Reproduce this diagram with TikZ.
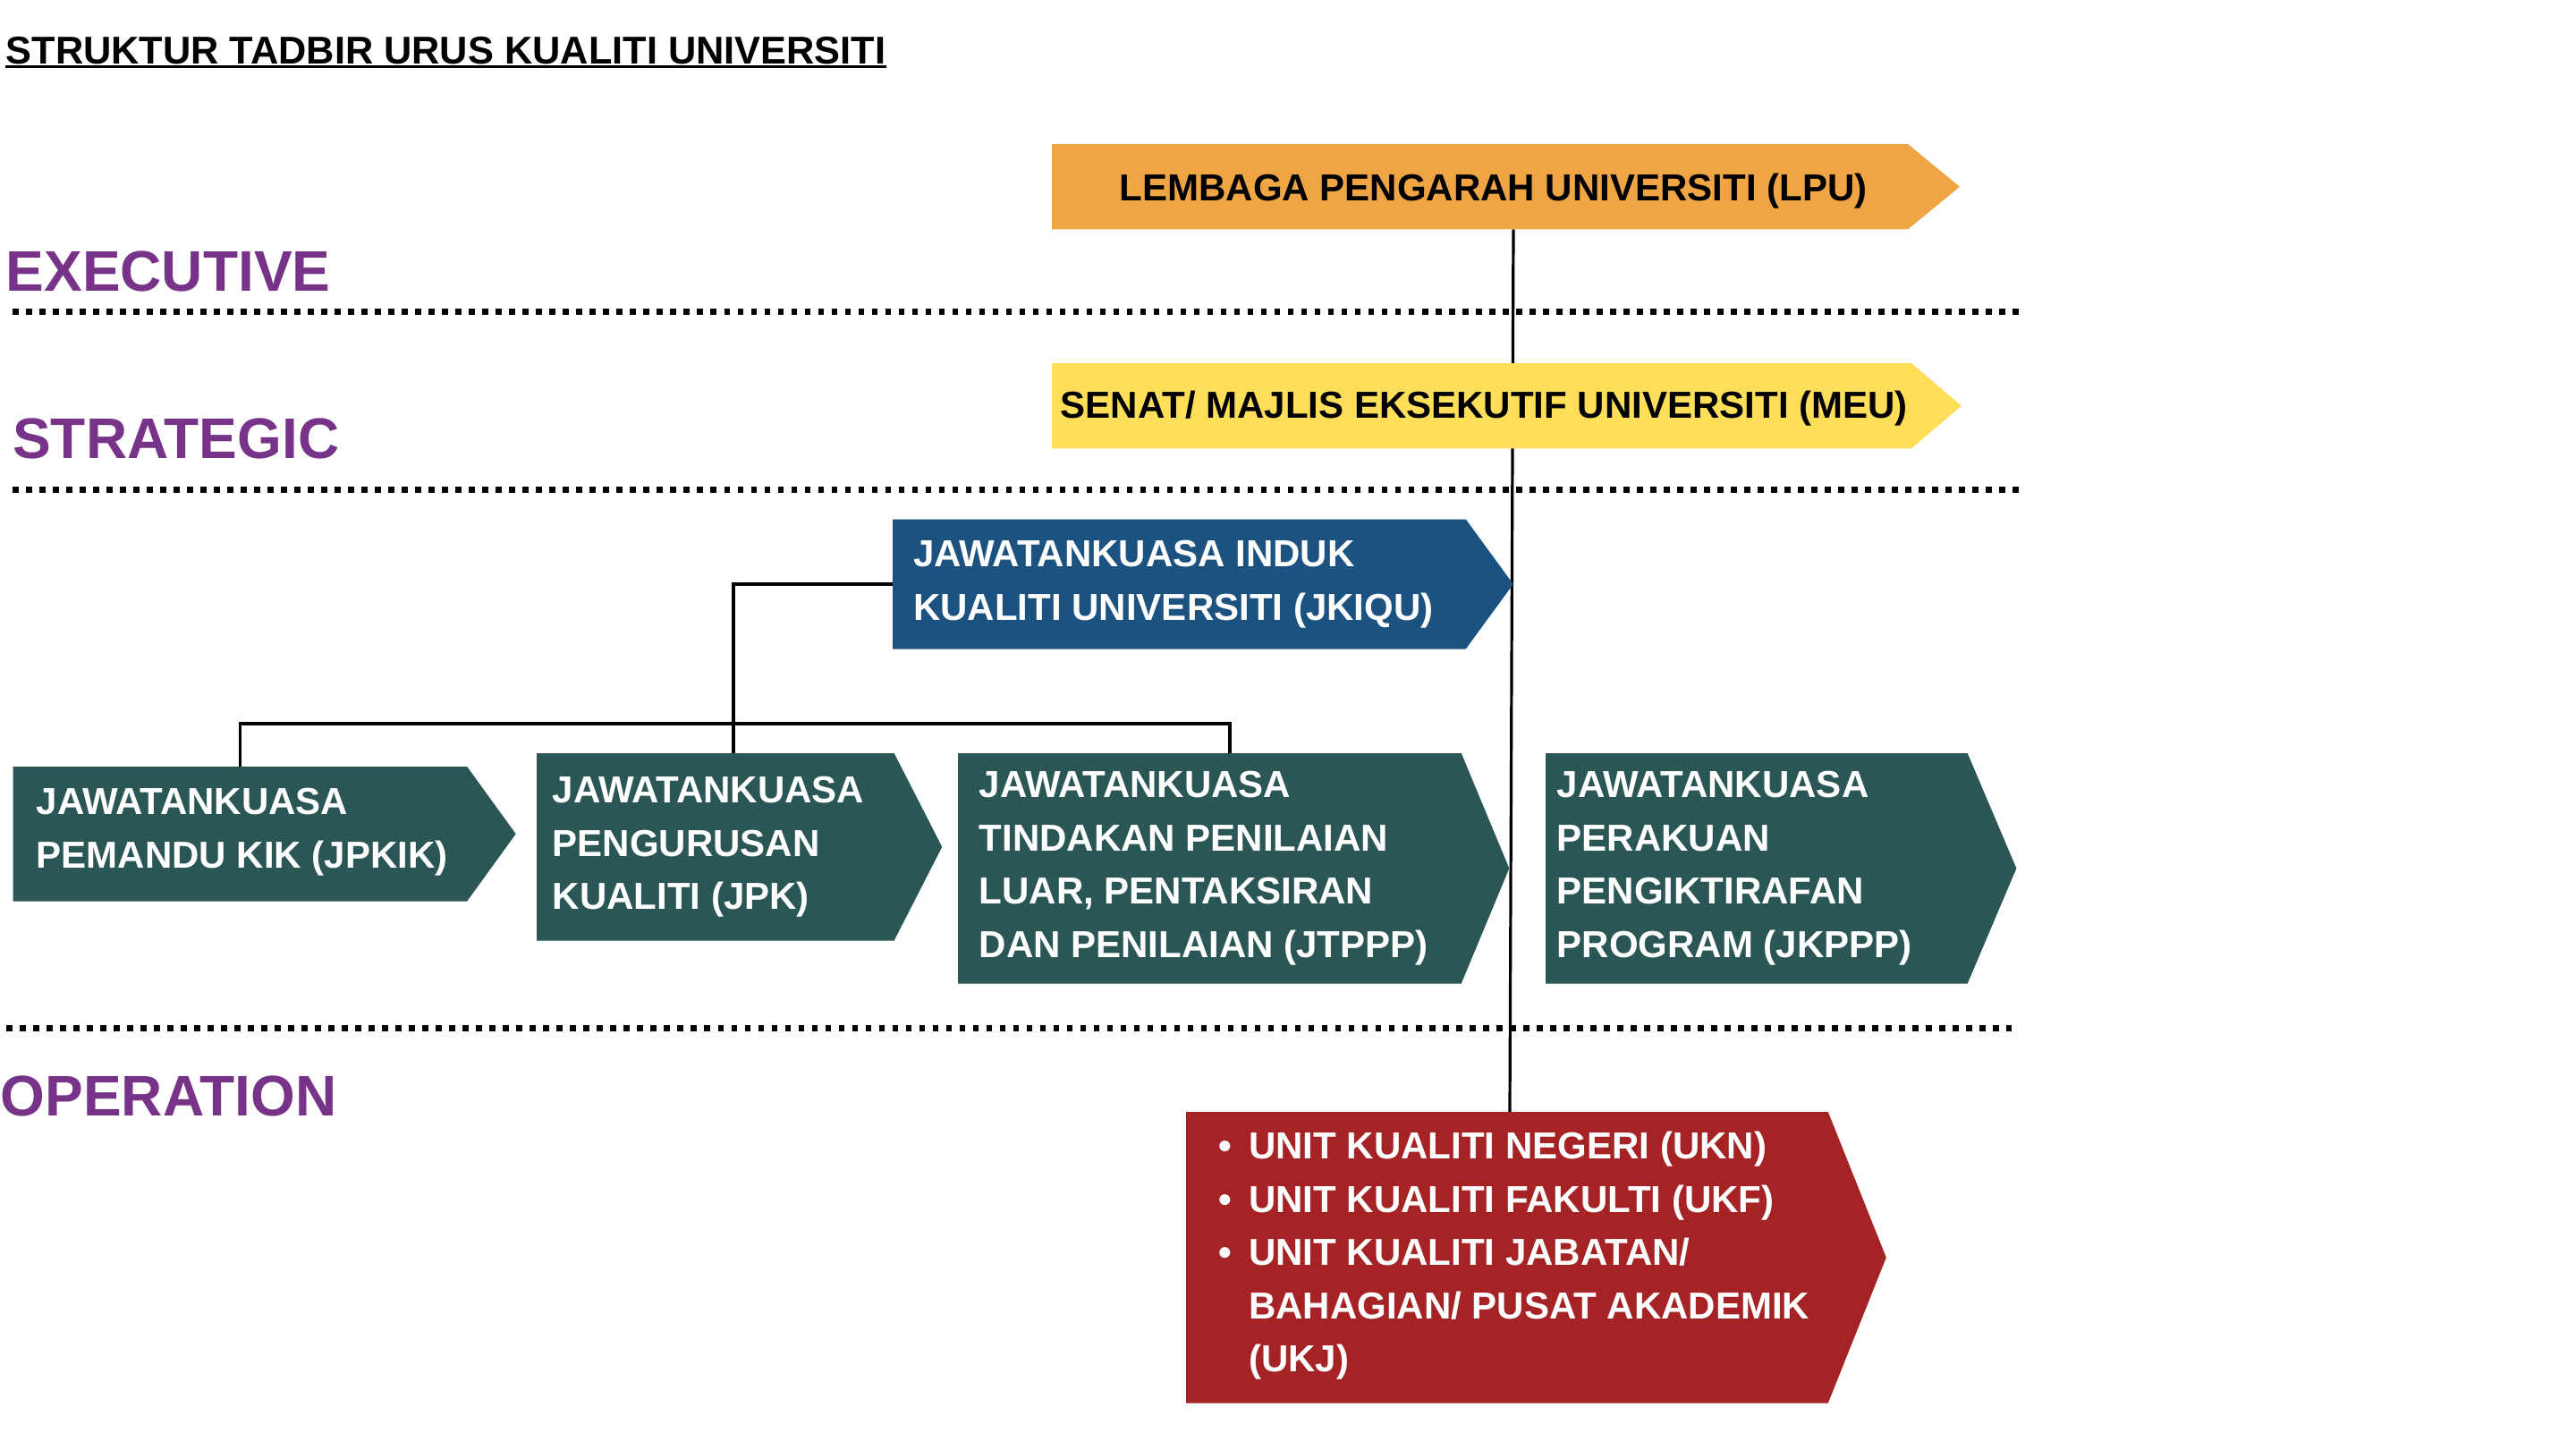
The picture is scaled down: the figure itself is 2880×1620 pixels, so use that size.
\documentclass[tikz,border=0pt]{standalone}
\usepackage{fontspec}
\setmainfont{Liberation Sans}
\usetikzlibrary{calc}
\definecolor{lpuorange}{HTML}{F0A545}
\definecolor{meuyellow}{HTML}{FFDE59}
\definecolor{jkiqublue}{HTML}{1B5280}
\definecolor{jkgreen}{HTML}{2A5656}
\definecolor{ukred}{HTML}{A52324}
\definecolor{tierpurple}{HTML}{773388}
\tikzset{
  tier/.style={anchor=base west, inner sep=0pt, text=tierpurple, font=\fontsize{18.2}{20}\selectfont\bfseries},
  unitbox/.style={anchor=north west, inner sep=0pt},
  unittext/.style={anchor=west, inner sep=0pt, align=left, text=white, font=\fontsize{11.95}{16.93}\selectfont\bfseries},
  link/.style={line width=0.032cm},
  tierline/.style={line width=0.07cm, dash pattern=on 0.065cm off 0.085cm}
}
\begin{document}
\begin{tikzpicture}[x=0.01cm, y=-0.01cm]
    \useasboundingbox (0,0) rectangle (2880,1620);
    \node[anchor=base west, inner sep=0pt, font=\fontsize{12.32}{14}\selectfont\bfseries] (title) at (6,71) {STRUKTUR TADBIR URUS KUALITI UNIVERSITI};
    \draw[line width=0.027cm] ($(title.base west)+(0,3.7)$) -- ($(title.base east)+(0,3.7)$);
    \node[tier] (exec) at (6,325) {EXECUTIVE};
    \node[tier] (strat) at (13.6,512) {STRATEGIC};
    \node[tier] (oper) at (0,1247) {OPERATION};
    \draw[tierline] (14,348) -- (2257,348);
    \draw[tierline] (14,547.5) -- (2257,547.5);
    \draw[tierline] (7,1149) -- (2249,1149);
    \node[unitbox, minimum width=9.55cm, minimum height=0.94cm] (lpu) at (1176,161) {};
    \node[unitbox, minimum width=9.59cm, minimum height=0.94cm] (meu) at (1176,406) {};
    \node[unitbox, minimum width=6.39cm, minimum height=1.435cm] (jkiqu) at (998,580.5) {};
    \node[unitbox, minimum width=5.06cm, minimum height=1.49cm] (jpkik) at (14.5,857) {};
    \node[unitbox, minimum width=3.98cm, minimum height=2.08cm] (jpk) at (600,842) {};
    \node[unitbox, minimum width=5.61cm, minimum height=2.56cm] (jtppp) at (1071,842) {};
    \node[unitbox, minimum width=4.70cm, minimum height=2.56cm] (jkppp) at (1728,842) {};
    \node[unitbox, minimum width=7.16cm, minimum height=3.24cm] (ukj) at (1326,1243) {};
    \draw[link] ($(lpu.south west)+(516,0)$) -- ($(ukj.north west)+(362,0)$);
    \foreach \b/\c/\t in {lpu/lpuorange/58, meu/meuyellow/56, jkiqu/jkiqublue/53, jpkik/jkgreen/54.5, jpk/jkgreen/53.6, jtppp/jkgreen/53.6, jkppp/jkgreen/54.7, ukj/ukred/65}
    \fill[\c] (\b.north west) -- (\b.north east) -- ($(\b.east)+(\t,0)$) -- (\b.south east) -- (\b.south west) -- cycle;
    \node[unittext, text=black] (lputext) at ($(lpu.west)+(75,5)$) {LEMBAGA PENGARAH UNIVERSITI (LPU)};
    \node[unittext, text=black] (meutext) at ($(meu.west)+(9,3)$) {SENAT/ MAJLIS EKSEKUTIF UNIVERSITI (MEU)};
    \node[unittext] (jkiqutext) at ($(jkiqu.west)+(22.5,0)$) {JAWATANKUASA INDUK\\KUALITI UNIVERSITI (JKIQU)};
    \node[unittext] (jpkiktext) at ($(jpkik.west)+(25.5,-2)$) {JAWATANKUASA\\PEMANDU KIK (JPKIK)};
    \node[unittext] (jpktext) at ($(jpk.west)+(17,0)$) {JAWATANKUASA\\PENGURUSAN\\KUALITI (JPK)};
    \node[unittext] (jtppptext) at ($(jtppp.west)+(23,0)$) {JAWATANKUASA\\TINDAKAN PENILAIAN\\LUAR, PENTAKSIRAN\\DAN PENILAIAN (JTPPP)};
    \node[unittext] (jkppptext) at ($(jkppp.west)+(12,0)$) {JAWATANKUASA\\PERAKUAN\\PENGIKTIRAFAN\\PROGRAM (JKPPP)};
    \node[unittext] (ukjtext) at ($(ukj.west)+(36,-2)$) {\makebox[0.334cm][l]{\textbullet}UNIT KUALITI NEGERI (UKN)\\\makebox[0.334cm][l]{\textbullet}UNIT KUALITI FAKULTI (UKF)\\\makebox[0.334cm][l]{\textbullet}UNIT KUALITI JABATAN/\\\hspace*{0.334cm}BAHAGIAN/ PUSAT AKADEMIK\\\hspace*{0.334cm}(UKJ)};
    \coordinate (bus) at (820,809);
    \draw[link] (jkiqu.west) -| (bus);
    \draw[link] (jpkik.north) |- (bus) -| ($(jtppp.north west)+(304,0)$);
    \draw[link] (bus) -- (bus |- jpk.north);
\end{tikzpicture}
\end{document}
